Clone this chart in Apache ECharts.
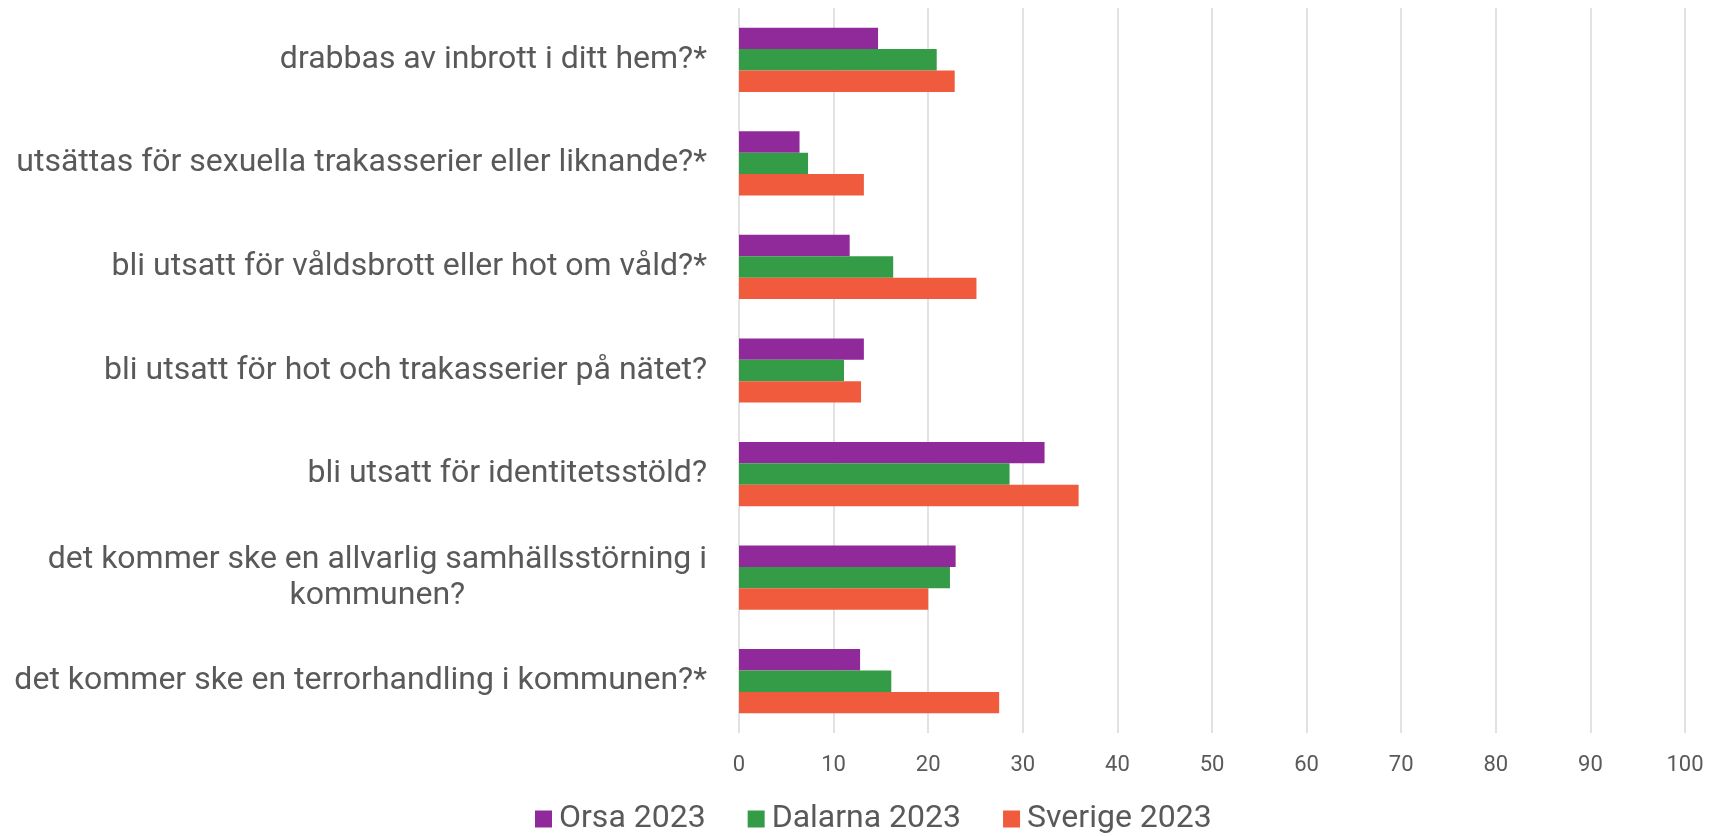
<!DOCTYPE html>
<html>
<head>
<meta charset="utf-8">
<script src="https://cdn.jsdelivr.net/npm/echarts@6/dist/echarts.min.js"></script>
<style>
  html, body { margin: 0; padding: 0; background: #fff; }
  #main { width: 1711px; height: 836px; }
</style>
</head>
<body>
<div id="main"></div>
<script>
// frågor (uppifrån och ned)
var categories = [
  "drabbas av inbrott i ditt hem?*",
  "utsättas för sexuella trakasserier eller liknande?*",
  "bli utsatt för våldsbrott eller hot om våld?*",
  "bli utsatt för hot och trakasserier på nätet?",
  "bli utsatt för identitetsstöld?",
  "det kommer ske en allvarlig samhällsstörning i\nkommunen?",
  "det kommer ske en terrorhandling i kommunen?*"
];
var orsa = [14.7, 6.4, 11.7, 13.2, 32.3, 22.9, 12.8];
var dalarna = [20.9, 7.3, 16.3, 11.1, 28.6, 22.3, 16.1];
var sverige = [22.8, 13.2, 25.1, 12.9, 35.9, 20.0, 27.5];
var seriesNames = ["Orsa 2023", "Dalarna 2023", "Sverige 2023"];
var colors = ["#902a9a", "#349b47", "#ef5b3c"];

var chart = echarts.init(document.getElementById('main'));

var txt = '#595959';
var font = 'Roboto';

var series = [orsa, dalarna, sverige].map(function (d, i) {
  return {
    name: seriesNames[i],
    type: 'bar',
    data: d,
    barCategoryGap: '38%',
    barGap: '0%',
    itemStyle: { color: colors[i] },
    emphasis: { disabled: true }
  };
});

chart.setOption({
  animation: false,
  textStyle: { fontFamily: font },
  grid: { left: 739, right: 26, top: 8, bottom: 103, containLabel: false },
  legend: {
    data: seriesNames,
    left: 535,
    top: 803,
    padding: 0,
    icon: 'rect',
    itemWidth: 17,
    itemHeight: 17,
    itemGap: 42,
    textStyle: { color: txt, fontSize: 32, fontFamily: font, padding: [0, 0, 0, 2] }
  },
  xAxis: {
    type: 'value',
    min: 0,
    max: 100,
    interval: 10,
    axisLine: { show: false },
    axisTick: { show: false },
    splitLine: { show: true, lineStyle: { color: '#d9d9d9', width: 1.5 } },
    axisLabel: { color: txt, fontSize: 22, fontFamily: font, margin: 21 }
  },
  yAxis: {
    type: 'category',
    data: categories,
    inverse: true,
    axisLine: { show: false },
    axisTick: { show: false },
    splitLine: { show: false },
    axisLabel: {
      margin: 32,
      align: 'right',
      formatter: function (v) {
        return v.split('\n').map(function (s) { return '{c|' + s + '}'; }).join('\n');
      },
      rich: {
        c: { color: txt, fontSize: 32, fontFamily: font, lineHeight: 36, align: 'center' }
      }
    }
  },
  series: series
});
</script>
</body>
</html>
